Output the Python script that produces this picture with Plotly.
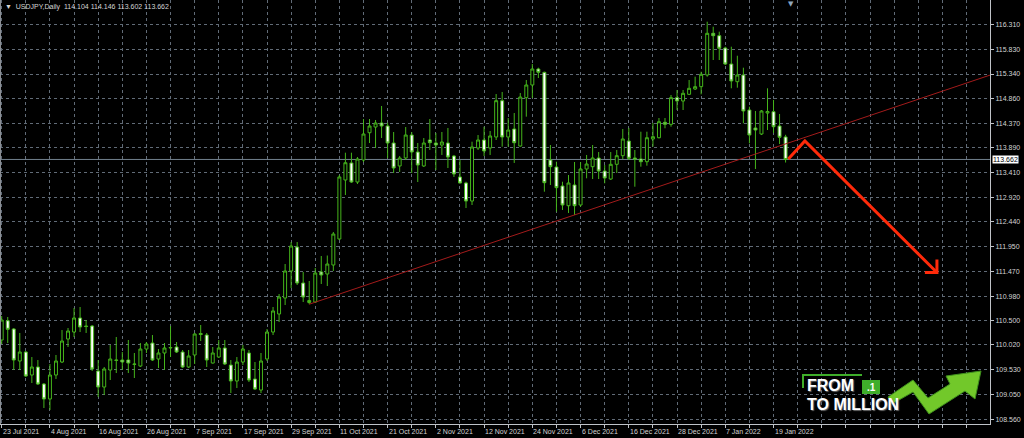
import pandas as pd
import plotly.graph_objects as go

# ---------------- data ----------------
symbol = "USDJPY,Daily"
first_day = "2021-07-23"

opens = [
    110.117, 110.496, 110.333, 109.705, 109.881, 109.430, 109.587, 109.253, 108.959, 109.430,
    109.685, 110.137, 110.274, 110.549, 110.392, 110.392, 109.508, 109.194, 109.528, 109.724,
    109.724, 109.724, 109.646, 109.606, 109.940, 110.058, 109.744, 109.862, 109.960, 109.980,
    109.881, 109.587, 109.823, 110.245, 110.215, 109.665, 109.783, 109.960, 109.626, 109.312,
    109.685, 109.862, 109.351, 109.135, 109.744, 110.274, 110.628, 110.942, 111.472, 111.943,
    111.236, 110.853, 110.863, 111.452, 111.413, 111.590, 112.100, 113.259, 113.593, 113.219,
    113.651, 114.187, 114.299, 114.378, 114.319, 113.985, 113.534, 113.691, 114.142, 113.808,
    113.534, 114.044, 113.985, 113.946, 113.985, 113.730, 113.318, 113.200, 112.846, 113.887,
    114.044, 113.887, 114.103, 114.816, 114.103, 114.260, 113.926, 114.875, 115.124, 115.438,
    115.373, 113.651, 113.514, 113.141, 112.754, 113.161, 112.768, 113.475, 113.520, 113.691,
    113.435, 113.278, 113.567, 113.736, 114.024, 113.691, 113.671, 113.618, 114.064, 114.089,
    114.392, 114.352, 114.875, 114.810, 114.941, 115.045, 115.091, 115.320, 116.139, 116.092,
    115.850, 115.536, 115.189, 115.320, 114.633, 114.280, 114.162, 114.574, 114.600, 114.319,
    114.104,
]
highs = [
    110.588, 110.569, 110.353, 110.255, 109.901, 109.783, 109.724, 109.273, 109.646, 109.823,
    110.313, 110.353, 110.745, 110.765, 110.510, 110.412, 109.724, 109.587, 110.019, 110.176,
    109.881, 110.117, 109.862, 110.058, 110.078, 110.215, 109.940, 110.058, 110.392, 110.078,
    109.921, 109.921, 110.255, 110.412, 110.255, 109.980, 110.117, 110.117, 109.724, 109.783,
    110.019, 109.921, 109.685, 109.862, 110.333, 110.765, 111.020, 111.609, 112.041, 112.041,
    111.452, 111.276, 111.531, 111.766, 111.776, 112.238, 113.357, 113.795, 113.795, 113.710,
    114.456, 114.456, 114.437, 114.712, 114.384, 114.201, 113.730, 114.299, 114.201, 113.985,
    114.083, 114.456, 114.182, 114.201, 114.280, 113.750, 113.651, 113.225, 114.011, 114.142,
    114.305, 114.221, 114.947, 114.987, 114.476, 114.574, 114.967, 115.222, 115.536, 115.464,
    115.385, 113.946, 113.618, 113.225, 113.357, 113.612, 113.612, 113.750, 113.946, 113.808,
    113.553, 113.808, 113.848, 114.260, 114.280, 113.848, 114.207, 114.207, 114.378, 114.476,
    114.476, 114.928, 115.026, 115.026, 115.222, 115.287, 115.385, 116.367, 116.269, 116.171,
    115.876, 115.876, 115.699, 115.464, 114.698, 114.614, 114.633, 115.059, 114.830, 114.555,
    114.146,
]
lows = [
    110.039, 110.058, 109.528, 109.528, 109.391, 109.273, 109.234, 108.782, 108.743, 109.351,
    109.665, 109.980, 110.176, 110.274, 110.255, 109.508, 108.998, 109.037, 109.332, 109.469,
    109.528, 109.469, 109.371, 109.587, 109.862, 109.705, 109.567, 109.528, 109.783, 109.862,
    109.567, 109.567, 109.646, 110.097, 109.587, 109.655, 109.764, 109.626, 109.076, 109.175,
    109.626, 109.292, 109.135, 109.076, 109.705, 110.215, 110.471, 110.804, 111.138, 111.197,
    110.863, 110.820, 110.844, 111.217, 111.177, 111.472, 112.081, 112.964, 113.200, 113.180,
    113.612, 113.985, 113.887, 114.083, 113.691, 113.396, 113.416, 113.651, 113.396, 113.219,
    113.514, 113.848, 113.455, 113.750, 113.494, 113.318, 113.190, 112.709, 112.768, 113.848,
    113.730, 113.750, 114.044, 113.913, 113.913, 113.593, 113.913, 114.502, 114.869, 115.261,
    113.029, 113.161, 112.636, 112.670, 112.611, 112.571, 112.734, 113.292, 113.278, 113.278,
    113.194, 113.259, 113.396, 113.671, 113.651, 113.127, 113.520, 113.540, 113.913, 114.077,
    114.274, 114.305, 114.633, 114.633, 114.928, 115.026, 114.941, 115.287, 115.615, 115.615,
    115.517, 115.059, 115.071, 114.372, 113.979, 113.475, 114.142, 114.240, 114.182, 113.966,
    113.602,
]
closes = [
    110.510, 110.327, 109.724, 109.881, 109.410, 109.587, 109.253, 108.959, 109.430, 109.705,
    110.097, 110.294, 110.549, 110.372, 110.382, 109.548, 109.194, 109.548, 109.744, 109.718,
    109.685, 109.665, 109.640, 109.940, 110.039, 109.724, 109.862, 109.960, 109.970, 109.881,
    109.587, 109.803, 110.235, 110.225, 109.724, 109.862, 109.960, 109.646, 109.312, 109.685,
    109.940, 109.332, 109.155, 109.705, 110.274, 110.687, 110.961, 111.472, 111.963, 111.236,
    110.961, 110.893, 111.433, 111.393, 111.609, 112.198, 113.318, 113.598, 113.219, 113.671,
    114.162, 114.319, 114.378, 114.319, 113.985, 113.494, 113.691, 114.142, 113.808, 113.553,
    113.985, 113.991, 113.946, 114.005, 113.710, 113.376, 113.200, 112.846, 113.907, 114.044,
    113.828, 114.123, 114.816, 114.103, 114.240, 113.991, 114.888, 115.124, 115.438, 115.373,
    113.206, 113.520, 113.108, 112.768, 113.200, 112.754, 113.475, 113.573, 113.691, 113.435,
    113.298, 113.567, 113.736, 114.064, 113.685, 113.671, 113.618, 114.089, 114.109, 114.403,
    114.352, 114.875, 114.810, 114.961, 115.059, 115.091, 115.334, 116.139, 116.092, 115.845,
    115.536, 115.203, 115.320, 114.614, 114.142, 114.240, 114.614, 114.604, 114.305, 114.097,
    113.662,
]
assert len(opens) == len(highs) == len(lows) == len(closes) == 131

price_ticks = [116.310, 115.830, 115.340, 114.860, 114.370, 113.890, 113.410, 112.920,
               112.440, 111.950, 111.470, 110.980, 110.500, 110.020, 109.530, 109.050, 108.560]
last_price = 113.662

# trend line anchors (bar index, price) and drawn forecast arrow (bar index, price)
trend_x = [51, 127]
trend_y = [110.820, 113.848]
arrow_x = [130.45, 133.2, 155.1]
arrow_y = [113.671, 114.025, 111.442]
arrowhead_x = [153.1, 155.1, 155.1]
arrowhead_y = [111.442, 111.442, 111.698]

# ---------------- build ----------------
dates = pd.bdate_range(first_day, periods=len(opens))
idx = list(range(len(opens)))
date_labels = [f"{d.day} {d.strftime('%b %Y')}" for d in dates]

W, H = 1024, 438
ML, MR, MT, MB = 0, 34, 0, 14
PW, PH = W - ML - MR, H - MT - MB
X_RANGE = [-0.282, 163.9]
Y_RANGE = [108.468, 116.793]

GREEN = "#45B51B"
GRID = "#616B77"
AXIS = "#BFC3C8"
TXT = "#D4D4D4"
FONT = "Liberation Sans, Arial, sans-serif"


def px(xp, yp):
    """figure-pixel -> paper coords"""
    return (xp - ML) / PW, (H - MB - yp) / PH


fig = go.Figure()

fig.add_trace(go.Candlestick(
    x=idx, open=opens, high=highs, low=lows, close=closes,
    increasing=dict(line=dict(color=GREEN, width=1), fillcolor="#000000"),
    decreasing=dict(line=dict(color=GREEN, width=1), fillcolor="#FFFFFF"),
    whiskerwidth=0, hoverinfo="skip", showlegend=False,
))

# trend line extended to the right edge
slope = (trend_y[1] - trend_y[0]) / (trend_x[1] - trend_x[0])
tx = [trend_x[0], X_RANGE[1] + 2]
ty = [trend_y[0] + slope * (x - trend_x[0]) for x in tx]
fig.add_trace(go.Scatter(x=tx, y=ty, mode="lines",
                         line=dict(color="#A31B1B", width=1),
                         hoverinfo="skip", showlegend=False))

# forecast arrow
fig.add_trace(go.Scatter(x=arrow_x, y=arrow_y, mode="lines",
                         line=dict(color="#FF2A0A", width=3),
                         hoverinfo="skip", showlegend=False))
fig.add_trace(go.Scatter(x=arrowhead_x, y=arrowhead_y, mode="lines",
                         line=dict(color="#FF2A0A", width=3),
                         hoverinfo="skip", showlegend=False))

shapes = [
    # current price line
    dict(type="line", xref="paper", yref="y", x0=0, x1=1, y0=last_price, y1=last_price,
         line=dict(color="#71808E", width=1), layer="below"),
    # left frame
    dict(type="line", xref="paper", yref="paper", x0=0.0005, x1=0.0005, y0=0, y1=1,
         line=dict(color="#8C9096", width=1)),
]

annotations = []
# date labels (left aligned at tick)
for i in range(0, len(idx), 8):
    annotations.append(dict(x=i, y=0, xref="x", yref="paper", text=date_labels[i],
                            xanchor="left", yanchor="top", yshift=-2, xshift=-1,
                            showarrow=False, font=dict(family=FONT, size=7, color=TXT)))

# header
nb = "\u00a0"
header = f"▼{nb}{nb}{symbol}{nb}{nb}" + f"{nb}".join(f"{v:.3f}" for v in
                                                     [opens[-1], highs[-1], lows[-1], closes[-1]])
annotations.append(dict(x=0, y=1, xref="paper", yref="paper", text=header, xanchor="left",
                        yanchor="top", xshift=3, yshift=-1, showarrow=False,
                        font=dict(family=FONT, size=7, color=TXT)))
# shift marker
mx, my = px(791, 3)
annotations.append(dict(x=mx, y=1, xref="paper", yref="paper", text="▼", xanchor="center",
                        yanchor="top", showarrow=False, yshift=2,
                        font=dict(family="DejaVu Sans", size=7, color="#8FA6BE")))
# current price label
annotations.append(dict(x=1, y=last_price, xref="paper", yref="y", text=f"{last_price:.3f}",
                        xanchor="left", yanchor="middle", xshift=2, showarrow=False,
                        bgcolor="#FFFFFF", borderpad=0,
                        font=dict(family=FONT, size=7, color="#000000")))

# ----- logo "FROM .1 TO MILLION" -----
LG = "#3FAE2A"
a0 = px(803, 388); a1 = px(803, 375); a2 = px(862, 375)
shapes.append(dict(type="path", xref="paper", yref="paper",
                   path=f"M{a0[0]},{a0[1]} L{a1[0]},{a1[1]} L{a2[0]},{a2[1]}",
                   line=dict(color=LG, width=2)))
b0 = px(862, 380); b1 = px(880, 394)
shapes.append(dict(type="rect", xref="paper", yref="paper", x0=b0[0], y0=b1[1], x1=b1[0], y1=b0[1],
                   fillcolor=LG, line=dict(width=0)))
tp = px(871, 387)
annotations.append(dict(x=tp[0], y=tp[1], xref="paper", yref="paper", text="<b>.1</b>",
                        showarrow=False, xanchor="center", yanchor="middle",
                        font=dict(family=FONT, size=10, color="#FFFFFF")))
fp = px(806, 385.5)
annotations.append(dict(x=fp[0], y=fp[1], xref="paper", yref="paper", text="<b>FROM</b>",
                        showarrow=False, xanchor="left", yanchor="middle", borderpad=0,
                        font=dict(family=FONT, size=16, color="#FFFFFF",
                                  shadow="1px 1px 1px #666")))
mp = px(806, 404)
annotations.append(dict(x=mp[0], y=mp[1], xref="paper", yref="paper", text="<b>TO MILLION</b>",
                        showarrow=False, xanchor="left", yanchor="middle", borderpad=0,
                        font=dict(family=FONT, size=16, color="#FFFFFF",
                                  shadow="1px 1px 1px #666")))
pts = [(888, 397), (913, 380), (928, 398), (950, 384), (946, 376), (981, 371),
       (975, 399), (965, 391), (929, 414), (913, 392), (892, 404)]
pp = [px(*p) for p in pts]
path = "M" + " L".join(f"{p[0]},{p[1]}" for p in pp) + " Z"
shapes.append(dict(type="path", xref="paper", yref="paper", path=path,
                   fillcolor="#72C82A", line=dict(color="#3E8E1C", width=1)))

fig.update_layout(
    width=W, height=H,
    margin=dict(l=ML, r=MR, t=MT, b=MB, pad=0),
    paper_bgcolor="#000000", plot_bgcolor="#000000",
    showlegend=False,
    shapes=shapes, annotations=annotations,
    xaxis=dict(range=X_RANGE, tickmode="array", tickvals=list(range(0, 164, 4)),
               ticktext=[""] * len(range(0, 164, 4)), ticks="outside", ticklen=3,
               tickcolor=AXIS, showline=True, linecolor=AXIS, linewidth=1,
               showgrid=True, gridcolor=GRID, griddash="3px,3px", gridwidth=1,
               zeroline=False, rangeslider=dict(visible=False), fixedrange=True),
    yaxis=dict(range=Y_RANGE, side="right", tickmode="array", tickvals=price_ticks,
               ticktext=[f"{v:.3f}" for v in price_ticks], ticks="outside", ticklen=3,
               tickcolor=AXIS, showline=True, linecolor=AXIS, linewidth=1,
               showgrid=True, gridcolor=GRID, griddash="3px,3px", gridwidth=1,
               zeroline=False, tickfont=dict(family=FONT, size=7, color=TXT),
               fixedrange=True),
)

fig.write_html(
    "out.html",
    config=dict(displayModeBar=False),
    post_script="document.body.style.margin='0';document.body.style.background='#000';",
)
